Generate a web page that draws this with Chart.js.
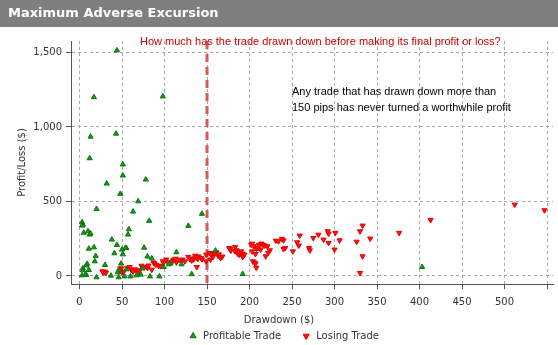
<!DOCTYPE html>
<html>
<head>
<meta charset="utf-8">
<title>Maximum Adverse Excursion</title>
<script src="https://cdn.jsdelivr.net/npm/chart.js@4.4.1/dist/chart.umd.min.js"></script>
<style>
  html, body { margin: 0; padding: 0; background: #fff; }
</style>
</head>
<body>
<canvas id="maeChart" width="558" height="345"></canvas>
<script>
// Profitable trades: drawdown ($) and final profit ($)
const profitDrawdown = [44, 17, 98, 13, 43, 12, 51, 51, 32, 78, 48, 69, 20, 63, 82, 3, 4, 58, 57, 128,
    5, 10, 12, 13, 38, 44, 17, 11, 76, 55, 50, 41, 51, 19, 80, 114, 18, 85, 49, 30,
    9, 8, 4, 4, 11, 99, 107, 120, 74, 55, 46, 8, 20, 37, 46, 53, 60, 67, 72, 83,
    94, 132, 403, 192, 144, 160, 105, 3, 45, 54, 3, 7];
const profitPL = [1514, 1200, 1205, 935, 955, 790, 748, 674, 620, 647, 551, 501, 450, 432, 370, 360, 345, 313, 278, 336,
    290, 300, 278, 285, 244, 208, 192, 183, 190, 188, 177, 152, 145, 134, 130, 159, 98, 118, 83, 74,
    81, 70, 51, 38, 40, 60, 83, 78, 51, 44, 38, 7, -9, 2, -9, -3, -3, 4, 9, -3,
    -3, 12, 60, 13, 417, 170, 78, 338, 24, 188, 4, 9];

// Losing trades: drawdown ($) and final loss ($)
const lossDrawdown = [28, 30, 27, 31, 49, 50, 48, 52, 56, 59, 61, 63, 65, 67, 69, 71, 73, 74, 76, 79,
    80, 81, 85, 87, 88, 90, 93, 95, 98, 99, 102, 104, 110, 111, 113, 114, 118, 121, 124, 128,
    130, 132, 134, 135, 136, 137, 138, 139, 140, 143, 144, 149, 149, 153, 154, 155, 157, 158, 161, 163,
    164, 166, 168, 176, 177, 178, 183, 183, 185, 186, 188, 190, 191, 192, 192, 194, 202, 203, 203, 204,
    205, 206, 207, 207, 208, 208, 210, 211, 213, 214, 216, 218, 219, 221, 222, 224, 231, 234, 238, 240,
    242, 240, 251, 256, 258, 259, 270, 271, 275, 281, 287, 292, 293, 293, 300, 301, 306, 326, 330, 330,
    333, 333, 342, 376, 413, 512, 547];
const lossPL = [24, 29, 31, 20, 49, 24, 51, 29, 54, 60, 40, 30, 45, 35, 25, 38, 69, 60, 58, 60,
    54, 70, 42, 91, 84, 76, 69, 66, 98, 88, 110, 92, 103, 110, 116, 91, 108, 110, 98, 128,
    112, 104, 112, 118, 136, 126, 60, 114, 131, 121, 112, 98, 143, 155, 110, 143, 128, 155, 159, 136,
    145, 121, 130, 188, 181, 170, 194, 166, 172, 150, 143, 165, 140, 150, 128, 143, 210, 217, 165, 98,
    200, 90, 83, 148, 183, 55, 188, 210, 177, 217, 210, 204, 132, 199, 155, 172, 237, 233, 249, 239,
    188, 181, 165, 226, 204, 271, 188, 172, 255, 277, 244, 300, 284, 222, 177, 289, 239, 230, 300, 20,
    338, 132, 251, 289, 376, 479, 441];

// axis ticks
const drawdownTicks = [0, 50, 100, 150, 200, 250, 300, 350, 400, 450, 500, 550];
const drawdownLabelMax = 500;
const plTicks = [0, 500, 1000, 1500];

const cutoffDrawdown = 150;
const axisFont = { family: 'DejaVu Sans', size: 10 };

function toPoints(xs, ys) {
    return xs.map((x, i) => ({ x: x, y: ys[i] }));
}

// title bar, cut-off line and the text notes
const maePlugin = {
    id: 'maeDecor',
    beforeDraw(chart) {
        const ctx = chart.ctx;
        ctx.save();
        ctx.fillStyle = '#ffffff';
        ctx.fillRect(0, 0, chart.width, chart.height);
        ctx.fillStyle = '#7f7f7f';
        ctx.fillRect(0, 0, chart.width, 27);
        ctx.fillStyle = '#ffffff';
        ctx.font = 'bold 13px "DejaVu Sans"';
        ctx.textBaseline = 'middle';
        ctx.fillText('Maximum Adverse Excursion', 8, 14);
        ctx.restore();
    },
    beforeDatasetsDraw(chart) {
        const ctx = chart.ctx;
        const area = chart.chartArea;
        const x = chart.scales.x.getPixelForValue(cutoffDrawdown);
        ctx.save();
        ctx.strokeStyle = '#d65a5a';
        ctx.lineWidth = 3;
        ctx.setLineDash([8, 5]);
        ctx.beginPath();
        ctx.moveTo(x, area.top);
        ctx.lineTo(x, area.bottom);
        ctx.stroke();
        ctx.restore();
    },
    afterDraw(chart) {
        const ctx = chart.ctx;
        ctx.save();
        ctx.textBaseline = 'middle';
        ctx.fillStyle = '#cc0000';
        ctx.font = '11px "Liberation Sans"';
        ctx.fillText('How much has the trade drawn down before making its final profit or loss?', 140, 42);
        ctx.fillStyle = '#000000';
        ctx.font = '11px "Liberation Sans"';
        ctx.fillText('Any trade that has drawn down more than', 292, 92);
        ctx.fillText('150 pips has never turned a worthwhile profit', 292, 108);
        // x axis title, centred on the whole canvas
        ctx.fillStyle = '#333333';
        ctx.font = '10px "DejaVu Sans"';
        ctx.textAlign = 'center';
        ctx.fillText('Drawdown ($)', chart.width / 2, 320);
        ctx.restore();
    }
};

const ctx = document.getElementById('maeChart').getContext('2d');
const maeChart = new Chart(ctx, {
    type: 'scatter',
    data: {
        datasets: [{
            label: 'Profitable Trade',
            data: toPoints(profitDrawdown, profitPL),
            pointStyle: 'triangle',
            pointRadius: 3,
            pointBorderWidth: 1,
            backgroundColor: '#1c951c',
            borderColor: '#0c760c'
        }, {
            label: 'Losing Trade',
            data: toPoints(lossDrawdown, lossPL),
            pointStyle: 'triangle',
            rotation: 180,
            pointRadius: 3,
            pointBorderWidth: 1,
            backgroundColor: '#ff1414',
            borderColor: '#e80000'
        }]
    },
    options: {
        responsive: false,
        animation: false,
        layout: { padding: { top: 41, left: 10, right: 1, bottom: -6 } },
        scales: {
            x: {
                type: 'linear',
                min: -10,
                max: 557,
                border: { color: '#555555', width: 1, dash: [3, 3] },
                grid: { color: '#a8a8a8', tickLength: 5, tickColor: '#555555', tickBorderDash: [] },
                afterBuildTicks: (scale) => { scale.ticks = drawdownTicks.map(v => ({ value: v })); },
                ticks: {
                    padding: 7,
                    font: axisFont,
                    color: '#333333',
                    maxRotation: 0,
                    autoSkip: false,
                    callback: (v) => (v > drawdownLabelMax ? '' : v)
                },
                afterFit: (scale) => { scale.height = 27; }
            },
            y: {
                type: 'linear',
                min: -54,
                max: 1577,
                border: { color: '#555555', width: 1, dash: [3, 3] },
                grid: { color: '#a8a8a8', tickLength: 5, tickColor: '#555555', tickBorderDash: [] },
                afterBuildTicks: (scale) => { scale.ticks = plTicks.map(v => ({ value: v })); },
                ticks: {
                    padding: 4,
                    font: axisFont,
                    color: '#333333',
                    callback: (v) => v.toLocaleString('en-US')
                },
                title: {
                    display: true,
                    text: 'Profit/Loss ($)',
                    font: axisFont,
                    color: '#333333',
                    padding: { top: 6, bottom: 0 }
                },
                afterFit: (scale) => { scale.width = 61; }
            }
        },
        plugins: {
            legend: {
                position: 'bottom',
                labels: {
                    usePointStyle: true,
                    boxWidth: 14,
                    boxHeight: 5,
                    padding: 20,
                    font: axisFont,
                    color: '#333333'
                }
            },
            tooltip: { enabled: false }
        }
    },
    plugins: [maePlugin]
});
</script>
</body>
</html>
